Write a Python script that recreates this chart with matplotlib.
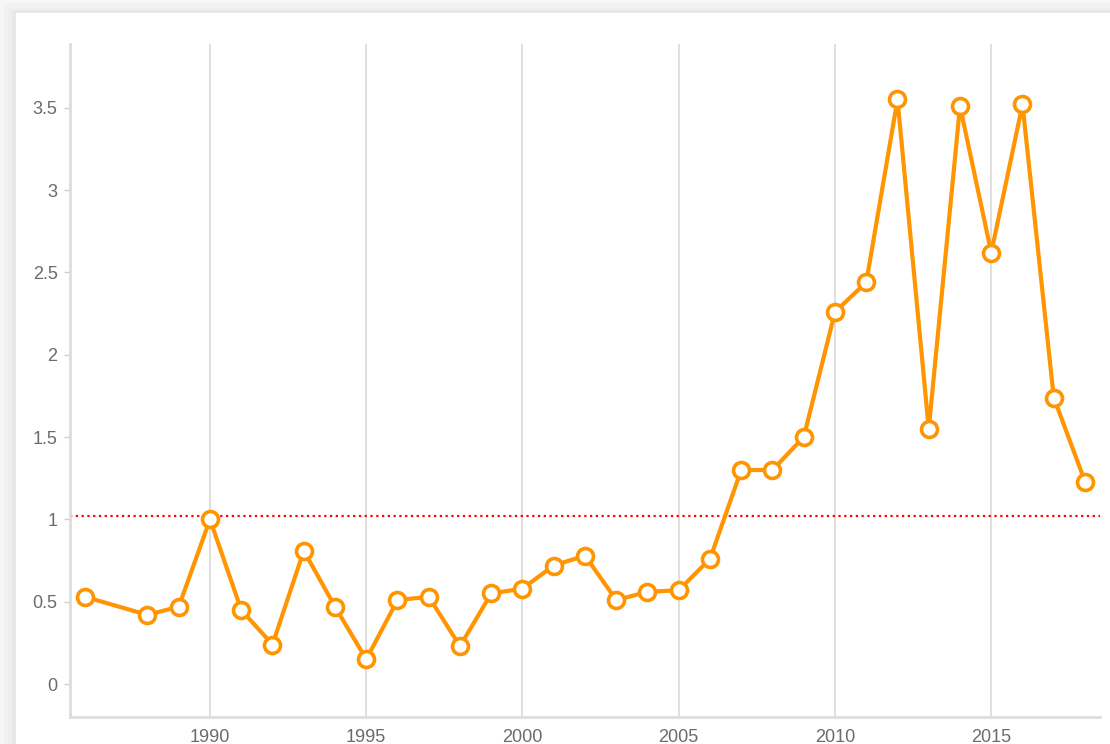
import matplotlib
matplotlib.use('Agg')
import matplotlib.pyplot as plt
from matplotlib.patches import Rectangle

plt.rcParams['font.family'] = ['Liberation Sans', 'DejaVu Sans']

# Yearly series (1987 has no value)
years = [1986, 1988, 1989, 1990, 1991, 1992, 1993, 1994, 1995, 1996, 1997,
         1998, 1999, 2000, 2001, 2002, 2003, 2004, 2005, 2006, 2007, 2008,
         2009, 2010, 2011, 2012, 2013, 2014, 2015, 2016, 2017, 2018]
values = [0.53, 0.42, 0.47, 1.00, 0.45, 0.24, 0.81, 0.47, 0.15, 0.51, 0.53,
          0.23, 0.55, 0.58, 0.72, 0.78, 0.51, 0.56, 0.57, 0.76, 1.30, 1.30,
          1.50, 2.26, 2.44, 3.55, 1.55, 3.51, 2.62, 3.52, 1.74, 1.23]
threshold = 1.02

xticks = [1990, 1995, 2000, 2005, 2010, 2015]
yticks = [0, 0.5, 1, 1.5, 2, 2.5, 3, 3.5]
ytick_labels = ['0', '0.5', '1', '1.5', '2', '2.5', '3', '3.5']

fig = plt.figure(figsize=(11.1, 7.44), dpi=100)
fig.patch.set_facecolor('#f6f6f6')

# card with a soft shadow on the top/left edges
W, H = 1110.0, 744.0
for i, c in enumerate(['#f1f1f1', '#eeeeee', '#e8e8e8']):
    off = 3 + 5 * i if i < 2 else 10
    fig.patches.append(Rectangle(((4 + 4 * i) / W, 0), 1, (H - off) / H,
                                 transform=fig.transFigure, facecolor=c,
                                 edgecolor='none', zorder=-2))
fig.patches.append(Rectangle((16 / W, 0), 1, (H - 13) / H,
                             transform=fig.transFigure, facecolor='white',
                             edgecolor='none', zorder=-1))

ax = fig.add_axes([70 / W, 27 / H, 1030 / W, 673 / H])
ax.set_facecolor('white')

ax.plot(years, values, color='#ff9500', lw=3.0, marker='o', ms=11.5,
        mfc='white', mec='#ff9500', mew=2.6, zorder=3, clip_on=False)
ax.axhline(threshold, color='#ff0000', lw=1.6, ls=(0, (1, 1.6)), zorder=2)

ax.set_xlim(1985.52, 2018.48)
ax.set_ylim(-0.2, 3.887)

ax.set_xticks(xticks)
ax.set_xticklabels([str(x) for x in xticks])
ax.set_yticks(yticks)
ax.set_yticklabels(ytick_labels)

ax.grid(axis='x', color='#dcdcdc', lw=1.3)
ax.grid(axis='y', visible=False)
ax.set_axisbelow(True)

for s in ['top', 'right']:
    ax.spines[s].set_visible(False)
for s in ['left', 'bottom']:
    ax.spines[s].set_color('#dddddd')
    ax.spines[s].set_linewidth(2)

ax.tick_params(axis='x', length=0, pad=9, labelsize=13, labelcolor='#6b6b6b')
ax.tick_params(axis='y', length=4, width=1, color='#cccccc', pad=5,
               labelsize=13, labelcolor='#6b6b6b')

plt.savefig('out.png', dpi=100, facecolor=fig.get_facecolor())
